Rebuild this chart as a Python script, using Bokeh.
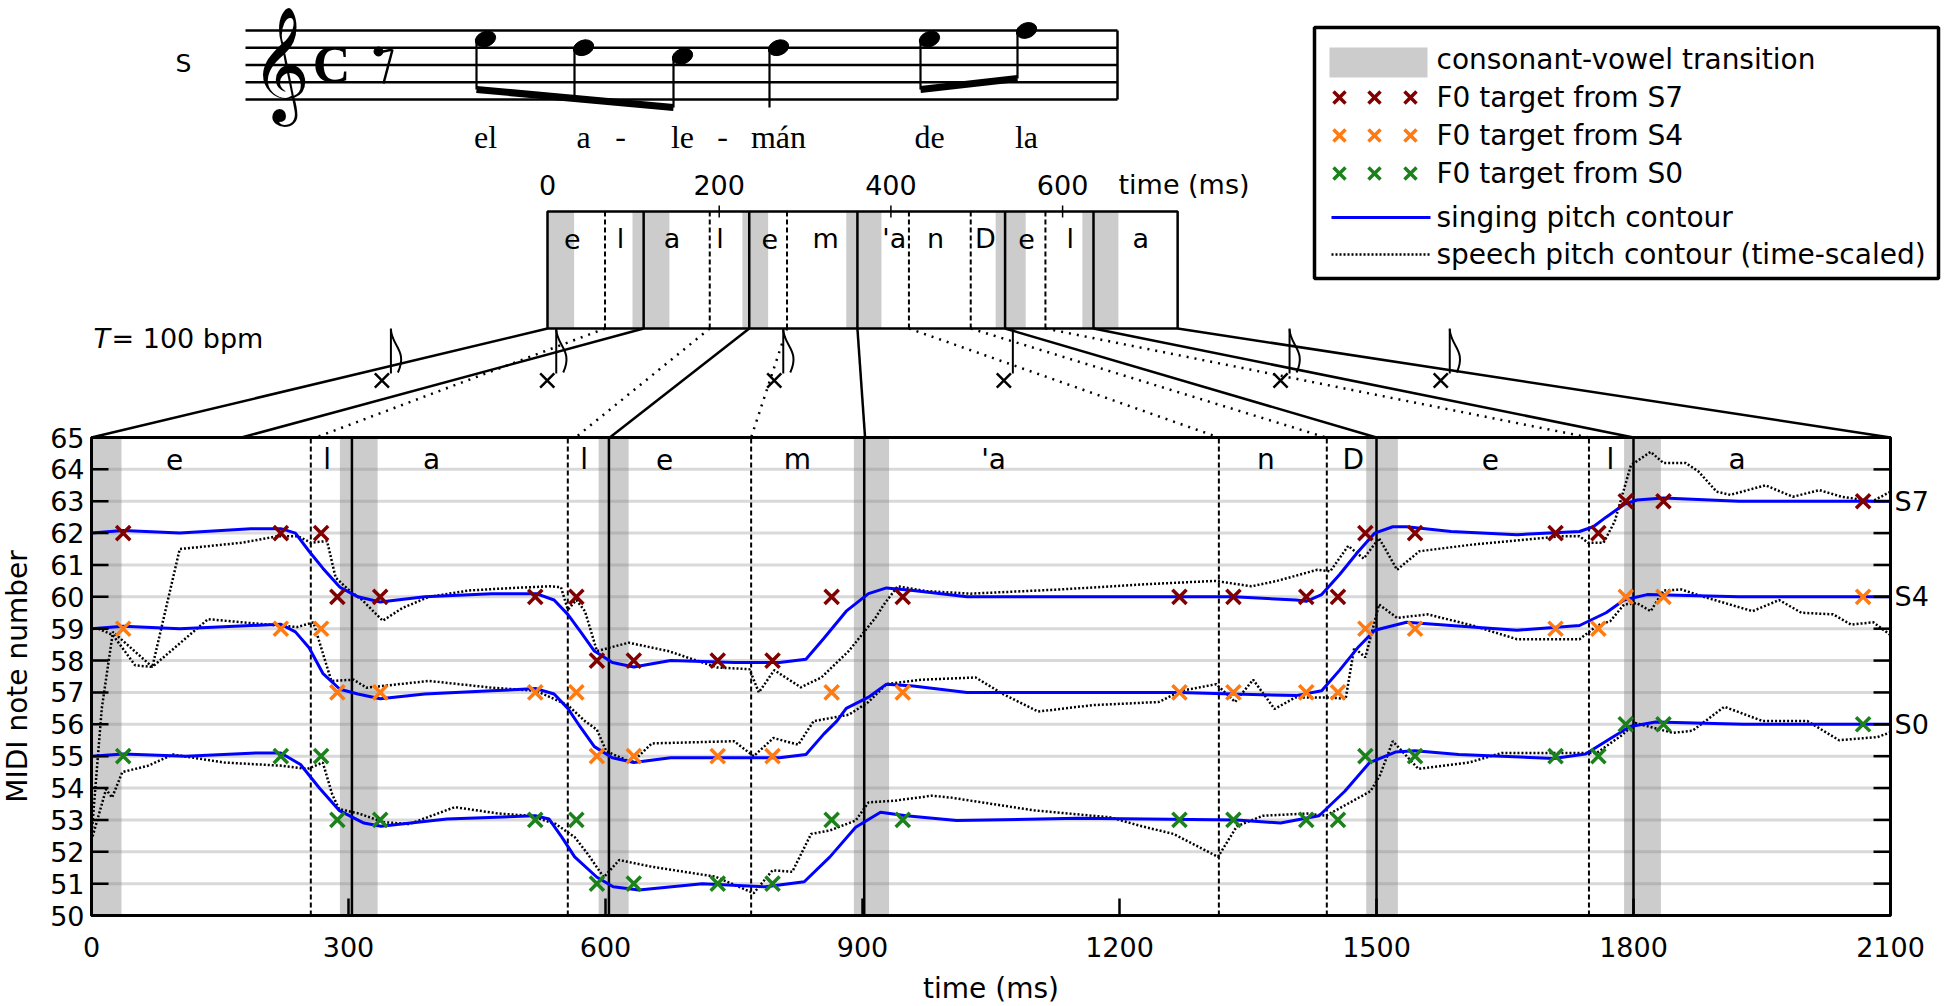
import math
from bokeh.plotting import figure
from bokeh.models import Range1d
from bokeh.core.properties import value
from bokeh.embed import file_html
from bokeh.resources import INLINE

FONT = "DejaVu Sans"
SERIF = "Liberation Serif"

# ------------------------------------------------------------------ data
MIDI_TICKS = list(range(50, 66))
GRID_MIDI = list(range(51, 65))
TIME_TICKS = [0, 300, 600, 900, 1200, 1500, 1800, 2100]
SERIES_NAMES = ["S7", "S4", "S0"]
SERIES_LABEL_MIDI = [63, 60, 56]

# singing segmentation (ms)
SING_CV_START = [0, 290, 592, 890, 1488, 1789]
SING_CV_END = [35, 334, 627, 931, 1525, 1832]
SING_SYL_BOUND = [304, 604, 902, 1500, 1800]
SING_PHON_BOUND = [256, 556, 770, 1316, 1442, 1748]
PHONEMES = ["e", "l", "a", "l", "e", "m", "'a", "n", "D", "e", "l", "a"]
SING_PHON_POS = [97, 275, 397, 575, 669, 824, 1053, 1371, 1473, 1633, 1773, 1921]

# speech segmentation (ms)
SPEECH_END = 734
SPEECH_TICKS = [0, 200, 400, 600]
SPEECH_CV_START = [0, 99, 227, 348, 522, 623]
SPEECH_CV_END = [31, 142, 257, 389, 557, 665]
SPEECH_SYL_BOUND = [112, 235, 361, 533, 636]
SPEECH_PHON_BOUND = [67, 189, 279, 421, 493, 580]
SPEECH_PHON_POS = [29, 85, 145, 201, 259, 324, 404, 452, 510, 558, 609, 691]

# speech -> singing alignment
MAP_SOLID_SPEECH = [0, 112, 235, 361, 533, 636, 734]
MAP_SOLID_SING = [0, 175, 605, 903, 1500, 1800, 2100]
MAP_DOT_SPEECH = [67, 189, 279, 421, 493, 580]
MAP_DOT_SING = [262, 565, 770, 1316, 1441, 1748]

# score
NOTE_NAMES = ["E5", "D5", "C5", "D5", "E5", "F5"]
NOTE_IS_EIGHTH = [True, True, True, False, True, True]
LYRICS = ["el", "a", "le", "mán", "de", "la"]
NOTE_MARK_T = [339, 532, 797, 1065, 1388, 1575]
TEMPO_TEXT = "= 100 bpm"

# F0 targets
TARGET_T = [37, 221, 268, 287, 337, 518, 566, 590, 633, 731, 795, 864, 947,
            1270, 1333, 1418, 1455, 1487, 1545, 1709, 1759, 1791, 1835, 2068]
S7_TARGET = [62, 62, 62, 60, 60, 60, 60, 58, 58, 58, 58, 60, 60, 60, 60, 60, 60,
             62, 62, 62, 62, 63, 63, 63]
S4_TARGET = [59, 59, 59, 57, 57, 57, 57, 55, 55, 55, 55, 57, 57, 57, 57, 57, 57,
             59, 59, 59, 59, 60, 60, 60]
S0_TARGET = [55, 55, 55, 53, 53, 53, 53, 51, 51, 51, 51, 53, 53, 53, 53, 53, 53,
             55, 55, 55, 55, 56, 56, 56]

# singing pitch contours
S7_SING_T = [0, 37, 103, 186, 221, 238, 254, 270, 290, 311, 337, 389, 467, 519, 540,
             556, 571, 587, 608, 633, 676, 751, 803, 834, 855, 881, 907, 928, 959,
             1022, 1115, 1269, 1333, 1406, 1418, 1436, 1457, 1478, 1498, 1519, 1535,
             1587, 1664, 1737, 1753, 1768, 1789, 1804, 1835, 1923, 2100]
S7_SING_M = [62.0, 62.08, 62.0, 62.14, 62.14, 62.0, 61.43, 60.9, 60.3, 60.0, 59.84,
             60.0, 60.1, 60.1, 59.9, 59.45, 58.9, 58.3, 57.94, 57.8, 58.0, 57.94,
             57.94, 58.04, 58.7, 59.55, 60.1, 60.28, 60.2, 60.0, 60.0, 60.0, 60.0,
             59.9, 59.86, 60.07, 60.7, 61.4, 62.0, 62.2, 62.2, 62.05, 61.95, 62.05,
             62.2, 62.5, 62.9, 63.04, 63.1, 63.0, 63.0]
S4_SING_T = [0, 37, 103, 186, 221, 238, 254, 270, 290, 311, 337, 389, 467, 519, 540,
             556, 571, 587, 608, 633, 676, 751, 803, 834, 855, 870, 881, 907, 928,
             959, 1022, 1115, 1269, 1333, 1406, 1436, 1457, 1478, 1498, 1535, 1587,
             1664, 1737, 1768, 1789, 1816, 1923, 2100]
S4_SING_M = [59.0, 59.08, 59.0, 59.1, 59.14, 58.9, 58.4, 57.6, 57.1, 56.95, 56.8,
             56.95, 57.05, 57.12, 56.95, 56.5, 55.9, 55.3, 54.95, 54.8, 54.95, 54.95,
             54.95, 55.05, 55.7, 56.1, 56.5, 56.85, 57.26, 57.2, 57.0, 57.0, 57.0,
             56.95, 56.9, 57.05, 57.7, 58.4, 58.95, 59.2, 59.1, 58.95, 59.1, 59.5,
             59.9, 60.07, 60.0, 60.0]
S0_SING_T = [0, 37, 110, 192, 221, 244, 266, 289, 318, 338, 415, 518, 534, 549, 564,
             590, 609, 639, 713, 787, 832, 862, 892, 921, 951, 1010, 1151, 1337, 1388,
             1433, 1463, 1492, 1522, 1545, 1596, 1707, 1744, 1774, 1796, 1826, 1929,
             2100]
S0_SING_M = [55.0, 55.07, 55.0, 55.1, 55.1, 54.74, 54.0, 53.3, 52.9, 52.8, 53.03,
             53.13, 53.03, 52.46, 51.84, 51.2, 50.9, 50.8, 51.0, 50.9, 51.06, 51.84,
             52.77, 53.24, 53.13, 52.98, 53.05, 53.0, 52.9, 53.13, 53.9, 54.8, 55.13,
             55.17, 55.05, 54.93, 55.07, 55.57, 55.93, 56.07, 56.0, 56.0]

# speech pitch contours (time-scaled)
S7_SPEECH_T = [8, 25, 51, 71, 103, 176, 217, 241, 256, 275, 285, 301, 316, 340, 363,
               394, 441, 493, 535, 548, 556, 566, 576, 590, 627, 673, 731, 768, 779,
               797, 828, 852, 884, 915, 925, 941, 974, 1026, 1130, 1234, 1312, 1354,
               1384, 1431, 1446, 1467, 1485, 1503, 1524, 1550, 1612, 1716, 1737, 1747,
               1765, 1778, 1797, 1820, 1835, 1861, 1876, 1897, 1913, 1954, 1986, 2017,
               2043, 2079, 2100]
S7_SPEECH_M = [59.0, 58.8, 57.85, 57.8, 61.5, 61.7, 61.9, 61.9, 61.7, 61.75, 60.6,
               60.2, 59.9, 59.25, 59.65, 60.0, 60.2, 60.28, 60.33, 60.3, 59.6, 59.9,
               59.55, 58.3, 58.56, 58.3, 57.78, 57.73, 57.0, 57.7, 57.16, 57.47, 58.3,
               59.34, 59.76, 60.33, 60.18, 60.1, 60.23, 60.4, 60.5, 60.33, 60.5, 60.85,
               60.8, 61.6, 61.2, 61.84, 60.85, 61.43, 61.64, 61.9, 61.9, 61.7, 61.7,
               62.36, 64.13, 64.55, 64.2, 64.2, 63.93, 63.3, 63.2, 63.5, 63.14, 63.35,
               63.14, 63.0, 63.3]
S4_SPEECH_T = [0, 12, 25, 71, 136, 176, 240, 259, 280, 306, 321, 394, 467, 519, 556,
               576, 590, 601, 631, 654, 750, 773, 796, 825, 843, 884, 907, 928, 969,
               1032, 1064, 1105, 1168, 1246, 1272, 1313, 1335, 1356, 1381, 1405, 1446,
               1464, 1474, 1487, 1503, 1524, 1560, 1612, 1664, 1737, 1758, 1773, 1789,
               1804, 1820, 1835, 1856, 1882, 1939, 1970, 1996, 2033, 2054, 2080, 2100]
S4_SPEECH_M = [52.5, 56.5, 58.9, 57.8, 59.3, 59.2, 59.05, 59.2, 57.36, 57.4, 57.15,
               57.36, 57.15, 57.05, 56.6, 56.1, 55.83, 55.15, 54.8, 55.4, 55.47, 55.0,
               55.57, 55.36, 56.1, 56.3, 56.7, 57.26, 57.4, 57.47, 56.95, 56.4, 56.6,
               56.7, 57.05, 57.26, 56.7, 57.4, 56.48, 56.84, 56.84, 56.8, 58.4, 58.1,
               59.76, 59.34, 59.45, 59.1, 58.67, 58.67, 59.1, 59.24, 59.76, 59.8, 59.55,
               60.2, 60.23, 60.0, 59.55, 59.9, 59.5, 59.45, 59.13, 59.2, 58.8]
S0_SPEECH_T = [0, 17, 24, 36, 66, 95, 155, 222, 252, 270, 281, 289, 312, 341, 371,
               424, 475, 512, 542, 564, 579, 598, 616, 654, 728, 773, 795, 818, 840,
               862, 892, 907, 937, 981, 1003, 1100, 1189, 1226, 1263, 1315, 1337, 1367,
               1419, 1441, 1493, 1504, 1519, 1549, 1608, 1646, 1757, 1787, 1802, 1846,
               1869, 1906, 1951, 2003, 2040, 2085, 2100]
S0_SPEECH_M = [52.36, 53.96, 53.7, 54.5, 54.7, 55.05, 54.8, 54.7, 54.6, 54.8, 53.8,
               53.34, 53.2, 52.93, 52.87, 53.4, 53.2, 53.13, 52.87, 52.46, 51.94, 51.2,
               51.74, 51.53, 51.22, 50.7, 51.42, 51.37, 52.56, 52.67, 52.98, 53.55,
               53.6, 53.76, 53.7, 53.3, 53.08, 52.8, 52.56, 51.84, 52.8, 53.13, 53.2,
               53.13, 53.9, 54.4, 55.47, 54.6, 54.8, 55.1, 55.1, 55.67, 56.04, 55.73,
               55.8, 56.55, 56.1, 56.1, 55.5, 55.6, 55.75]

COL_S7 = "#800000"
COL_S4 = "#ff7a10"
COL_S0 = "#1b821b"
COL_BLUE = "#0000ff"
SERIES_COLORS = [COL_S7, COL_S4, COL_S0]

# ------------------------------------------------------------------ page geometry
W, H = 1944, 1004
FRAME_L, FRAME_R, FRAME_T, FRAME_B = 91, 1890, 437, 915   # main plot box (page px)
K = 2100.0 / (FRAME_R - FRAME_L)          # ms per px
PXU = (FRAME_B - FRAME_T) / 15.0           # px per MIDI unit


def X(px):
    """page x (px) -> time axis value"""
    return (px - FRAME_L) * K


def Y(py):
    """page y (px) -> MIDI axis value"""
    return 65 + (FRAME_T - py) / PXU


BOX_X0, BOX_PX_PER_MS = 547, 171.7 / 200.0
BOX_TOP, BOX_BOT = 211, 328


def bx(t):
    return X(BOX_X0 + t * BOX_PX_PER_MS)


def txt(fig, x, y, text, size, align="center", font=FONT, style="normal",
        color="black", baseline="middle", angle=0):
    fig.text(x=x, y=y, text=text, text_font=value(font), text_font_size=size,
             text_align=align, text_baseline=baseline, text_font_style=style,
             text_color=color, angle=angle)


p = figure(width=W, height=H, x_range=Range1d(X(0), X(W)), y_range=Range1d(Y(H), Y(0)),
           min_border=0, toolbar_location=None, output_backend="svg")
p.outline_line_color = None
p.grid.visible = False
p.axis.visible = False

# ------------------------------------------------------------------ main plot
p.segment(x0=0, x1=2100, y0=GRID_MIDI, y1=GRID_MIDI, line_color="#d9d9d9", line_width=3)
p.quad(left=SING_CV_START, right=SING_CV_END, bottom=50, top=65,
       fill_color="#808080", fill_alpha=0.4, line_color=None)
p.segment(x0=SING_PHON_BOUND, x1=SING_PHON_BOUND, y0=50, y1=65, line_color="black",
          line_width=2, line_dash="5 3")
p.segment(x0=SING_SYL_BOUND, x1=SING_SYL_BOUND, y0=50, y1=65, line_color="black",
          line_width=2.5)
txt(p, SING_PHON_POS, [64.31] * len(PHONEMES), PHONEMES, "28px")

for st, sm in ((S7_SPEECH_T, S7_SPEECH_M), (S4_SPEECH_T, S4_SPEECH_M),
               (S0_SPEECH_T, S0_SPEECH_M)):
    p.line(st, sm, line_color="black", line_width=2.5, line_dash="2 2")
for st, sm in ((S7_SING_T, S7_SING_M), (S4_SING_T, S4_SING_M), (S0_SING_T, S0_SING_M)):
    p.line(st, sm, line_color=COL_BLUE, line_width=3)
for tg, c in ((S7_TARGET, COL_S7), (S4_TARGET, COL_S4), (S0_TARGET, COL_S0)):
    p.scatter(TARGET_T, tg, marker="x", size=20, line_color=c, line_width=3.5)

# axes of the main plot (drawn through the plot's scales)
tick_x = 17 * K
tick_y = 17 / PXU
p.segment(x0=0, x1=tick_x, y0=MIDI_TICKS, y1=MIDI_TICKS, line_color="black",
          line_width=2.5)
p.segment(x0=2100 - tick_x, x1=2100, y0=MIDI_TICKS, y1=MIDI_TICKS, line_color="black",
          line_width=2.5)
p.segment(x0=TIME_TICKS, x1=TIME_TICKS, y0=50, y1=50 + tick_y, line_color="black",
          line_width=2.5)
p.quad(left=[0], right=[2100], bottom=[50], top=[65], fill_color=None,
       line_color="black", line_width=3)
txt(p, [X(FRAME_L - 7)] * len(MIDI_TICKS), MIDI_TICKS, [str(m) for m in MIDI_TICKS],
    "27px", align="right")
txt(p, TIME_TICKS, [Y(FRAME_B + 31)] * len(TIME_TICKS), [str(t) for t in TIME_TICKS],
    "27px")
txt(p, [X(FRAME_R + 4)] * 3, SERIES_LABEL_MIDI, SERIES_NAMES, "27px", align="left")
txt(p, [X(17)], [57.5], ["MIDI note number"], "28px", angle=math.pi / 2)
txt(p, [1050], [Y(988)], ["time (ms)"], "28px")

# ------------------------------------------------------------------ score
STAFF_X0, STAFF_X1, STAFF_BOTTOM, STEP = 245, 1117, 99.0, 8.63
staff_py = [STAFF_BOTTOM - 2 * STEP * i for i in range(5)]
p.segment(x0=X(STAFF_X0), x1=X(STAFF_X1), y0=[Y(v) for v in staff_py],
          y1=[Y(v) for v in staff_py], line_color="black", line_width=2.5)
p.segment(x0=[X(STAFF_X1)], x1=[X(STAFF_X1)], y0=[Y(staff_py[0])], y1=[Y(staff_py[-1])],
          line_color="black", line_width=2.5)
txt(p, [X(183)], [Y(63)], ["S"], "25px")
txt(p, [X(280)], [Y(63)], ["\U0001D11E"], "100px")
txt(p, [X(331)], [Y(64)], ["C"], "52px", font=SERIF, style="bold")
p.segment(x0=[X(378), X(392)], y0=[Y(52), Y(49)], x1=[X(392), X(383)], y1=[Y(49), Y(83)],
          line_color="black", line_width=2.5)
p.scatter(x=[X(378)], y=[Y(51)], size=9, marker="circle", fill_color="black",
          line_color="black")

STEP_OF = {"C5": 5, "D5": 6, "E5": 7, "F5": 8}
NOTE_PX = [485, 583, 682, 778, 929, 1026]
head_py = [STAFF_BOTTOM - STEP * STEP_OF[n] for n in NOTE_NAMES]
p.ellipse(x=[X(v) for v in NOTE_PX], y=[Y(v) for v in head_py], width=21, height=15,
          width_units="screen", height_units="screen", angle=0.35,
          fill_color="black", line_color="black")
stem_px = [v - 9 for v in NOTE_PX]
beam1 = (stem_px[0], 89, stem_px[2], 107)
beam2 = (stem_px[4], 89, stem_px[5], 78)


def beam_y(b, x):
    return b[1] + (x - b[0]) / (b[2] - b[0]) * (b[3] - b[1])


stem_end = [beam_y(beam1, stem_px[0]), beam_y(beam1, stem_px[1]), beam_y(beam1, stem_px[2]),
            107, beam_y(beam2, stem_px[4]), beam_y(beam2, stem_px[5])]
p.segment(x0=[X(v) for v in stem_px], x1=[X(v) for v in stem_px],
          y0=[Y(v) for v in head_py], y1=[Y(v) for v in stem_end],
          line_color="black", line_width=2.2)
p.segment(x0=[X(beam1[0]), X(beam2[0])], y0=[Y(beam1[1]), Y(beam2[1])],
          x1=[X(beam1[2]), X(beam2[2])], y1=[Y(beam1[3]), Y(beam2[3])],
          line_color="black", line_width=7)
txt(p, [X(v) for v in NOTE_PX], [Y(136)] * 6, LYRICS, "32px", font=SERIF)
txt(p, [X(620), X(722)], [Y(136)] * 2, ["-", "-"], "32px", font=SERIF)

# ------------------------------------------------------------------ speech time box
p.quad(left=[bx(s) for s in SPEECH_CV_START], right=[bx(e) for e in SPEECH_CV_END],
       top=Y(BOX_TOP), bottom=Y(BOX_BOT), fill_color="#808080", fill_alpha=0.4,
       line_color=None)
p.segment(x0=[bx(t) for t in SPEECH_PHON_BOUND], x1=[bx(t) for t in SPEECH_PHON_BOUND],
          y0=Y(BOX_TOP), y1=Y(BOX_BOT), line_color="black", line_width=2, line_dash="5 3")
p.segment(x0=[bx(t) for t in SPEECH_SYL_BOUND], x1=[bx(t) for t in SPEECH_SYL_BOUND],
          y0=Y(BOX_TOP), y1=Y(BOX_BOT), line_color="black", line_width=2.5)
p.quad(left=[bx(0)], right=[bx(SPEECH_END)], top=Y(BOX_TOP), bottom=Y(BOX_BOT),
       fill_color=None, line_color="black", line_width=2.5)
txt(p, [bx(t) for t in SPEECH_PHON_POS], [Y(238)] * len(PHONEMES), PHONEMES, "27px")
tk = [t for t in SPEECH_TICKS if t > 0]
p.segment(x0=[bx(t) for t in tk], x1=[bx(t) for t in tk], y0=Y(205), y1=Y(217),
          line_color="black", line_width=1.5)
txt(p, [bx(t) for t in SPEECH_TICKS], [Y(184)] * 4, [str(t) for t in SPEECH_TICKS], "27px")
txt(p, [X(1118)], [Y(184)], ["time (ms)"], "27px", align="left")

# ------------------------------------------------------------------ alignment lines
p.segment(x0=[bx(t) for t in MAP_SOLID_SPEECH], y0=Y(BOX_BOT),
          x1=MAP_SOLID_SING, y1=65, line_color="black", line_width=2.5)
p.segment(x0=[bx(t) for t in MAP_DOT_SPEECH], y0=Y(BOX_BOT),
          x1=MAP_DOT_SING, y1=65, line_color="black", line_width=2.5, line_dash="2 6")

# note marks with tempo
p.scatter(x=NOTE_MARK_T, y=[Y(380)] * len(NOTE_MARK_T), marker="x", size=20,
          line_color="black", line_width=2.5)
stem_t = [t + 9 * K for t in NOTE_MARK_T]
p.segment(x0=stem_t, x1=stem_t, y0=Y(373), y1=Y(BOX_BOT), line_color="black",
          line_width=2)
fx = [t for t, e in zip(stem_t, NOTE_IS_EIGHTH) if e]
n = len(fx)
p.bezier(x0=fx, y0=[Y(BOX_BOT + 1)] * n, x1=[t + 7 * K for t in fx], y1=[Y(372)] * n,
         cx0=[t + 1 * K for t in fx], cy0=[Y(346)] * n, cx1=[t + 17 * K for t in fx],
         cy1=[Y(350)] * n, line_color="black", line_width=2)
txt(p, [X(93)], [Y(338)], ["T"], "27px", align="left", style="italic")
txt(p, [X(111)], [Y(338)], [TEMPO_TEXT], "27px", align="left")

# ------------------------------------------------------------------ legend
LX0, LX1, LY0, LY1 = 1314, 1938, 27, 278
p.quad(left=[X(LX0)], right=[X(LX1)], top=[Y(LY0)], bottom=[Y(LY1)], fill_color="white",
       line_color="black", line_width=3.5)
p.quad(left=[X(1329)], right=[X(1427)], top=[Y(47)], bottom=[Y(77)], fill_color="#cccccc",
       line_color=None)
legend_rows = [59, 97, 135, 173, 217, 254]
legend_text = ["consonant-vowel transition", "F0 target from S7", "F0 target from S4",
               "F0 target from S0", "singing pitch contour",
               "speech pitch contour (time-scaled)"]
for yy, c in zip(legend_rows[1:4], SERIES_COLORS):
    p.scatter(x=[X(1339), X(1374), X(1410)], y=[Y(yy)] * 3, marker="x", size=17,
              line_color=c, line_width=3.5)
p.segment(x0=[X(1331)], x1=[X(1430)], y0=[Y(legend_rows[4])], y1=[Y(legend_rows[4])],
          line_color=COL_BLUE, line_width=3)
p.segment(x0=[X(1331)], x1=[X(1430)], y0=[Y(legend_rows[5])], y1=[Y(legend_rows[5])],
          line_color="black", line_width=2.5, line_dash="2 2")
txt(p, [X(1436)] * 6, [Y(v) for v in legend_rows], legend_text, "28px", align="left")

open("out.html", "w").write(file_html(p, INLINE))
